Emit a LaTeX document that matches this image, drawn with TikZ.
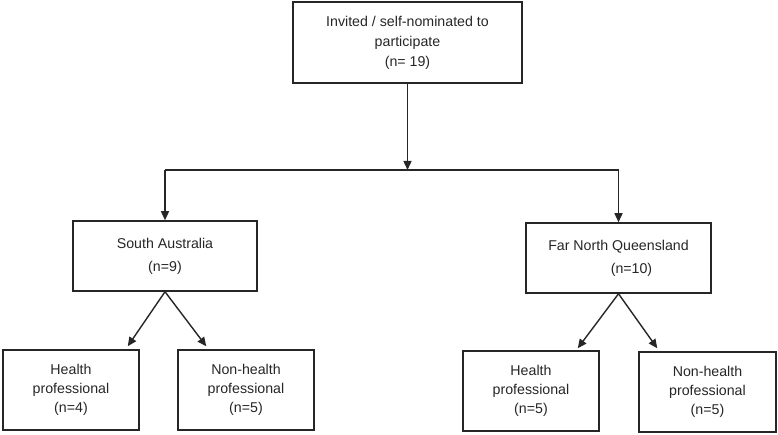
\documentclass[tikz,border=0pt]{standalone}
\usepackage{fontspec}
\setmainfont{Liberation Sans}
\usetikzlibrary{arrows.meta,calc}
\begin{document}
\begin{tikzpicture}[x=1pt,y=-1pt,
  box/.style={draw=black!85, line width=1.5pt, rectangle, align=center, inner sep=0pt,
    font=\fontsize{14.2}{20}\selectfont, text=black!85},
  conn/.style={draw=black!85, line width=1.4pt},
  arr/.style={conn, -{Triangle[length=9pt,width=8pt]}}]
\useasboundingbox (0,0) rectangle (778,435);
\node[box, minimum width=229pt, minimum height=81pt] (top) at (407.5,42.5)
  {Invited / self-nominated to\\participate\\(n= 19)};
\node[box, minimum width=184pt, minimum height=70pt, font=\fontsize{14.2}{23}\selectfont] (sa) at (165,256)
  {South Australia\\(n=9)};
\node[box, minimum width=185pt, minimum height=70pt, font=\fontsize{14.2}{23}\selectfont] (fnq) at (618.5,258)
  {Far North Queensland\\\hspace{26pt}(n=10)};
\node[box, minimum width=136pt, minimum height=80pt, font=\fontsize{14.2}{19}\selectfont] (sahp) at (71,390)
  {Health\\professional\\(n=4)};
\node[box, minimum width=136pt, minimum height=80pt, font=\fontsize{14.2}{19}\selectfont] (sanhp) at (246,390)
  {Non-health\\professional\\(n=5)};
\node[box, minimum width=136pt, minimum height=80pt, font=\fontsize{14.2}{19}\selectfont] (fhp) at (531,391)
  {Health\\professional\\(n=5)};
\node[box, minimum width=137pt, minimum height=80pt, font=\fontsize{14.2}{19}\selectfont] (fnhp) at (707.5,392)
  {Non-health\\professional\\(n=5)};
\coordinate (hm) at (407.5,170);
\coordinate (hl) at (165,170);
\coordinate (hr) at (618.5,170);
\draw[arr] (top.south) -- (hm);
\draw[conn] (hl) -- (hr);
\draw[arr] (hl) -- (sa.north);
\draw[arr] (hr) -- (fnq.north);
\draw[arr] (sa.south) -- ($(sahp.north east)+(-12,-3)$);
\draw[arr] (sa.south) -- ($(sanhp.north west)+(29,-3)$);
\draw[arr] (fnq.south) -- ($(fhp.north east)+(-22,-2)$);
\draw[arr] (fnq.south) -- ($(fnhp.north west)+(19,-3)$);
\end{tikzpicture}
\end{document}
